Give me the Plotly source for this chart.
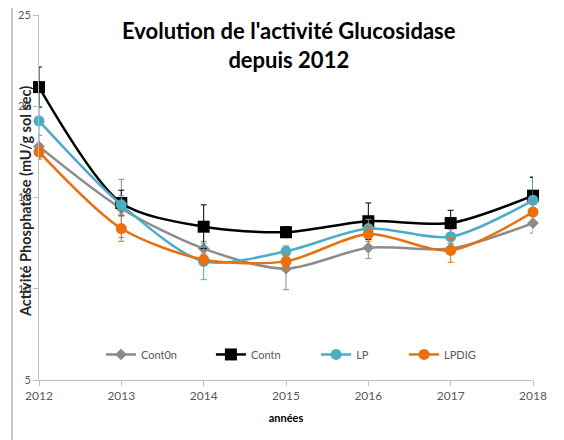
import plotly.graph_objects as go

years = [2012, 2013, 2014, 2015, 2016, 2017, 2018]
cont0n = [17.8, 14.4, 12.2, 11.1, 12.25, 12.2, 13.6]
cont0n_err = [0.6, 1.6, 0.4, 1.15, 0.6, 0.3, 0.55]
contn = [21.05, 14.7, 13.4, 13.1, 13.7, 13.6, 15.1]
contn_err = [1.1, 0.7, 1.2, 0.3, 1.0, 0.7, 1.0]
lp = [19.2, 14.6, 11.5, 12.05, 13.3, 12.85, 14.85]
lp_err = [0.8, 0.5, 1.0, 0.3, 0.5, 0.4, 1.3]
lpdig = [17.5, 13.3, 11.6, 11.5, 13.0, 12.1, 14.2]
lpdig_err = [0.4, 0.7, 0.3, 0.4, 0.4, 0.65, 0.6]
y_ticks = [5, 10, 15, 20, 25]

series = [
    ("Cont0n", cont0n, cont0n_err, "#8C8C8C", "diamond", 9, "legend", 0.1255),
    ("Contn", contn, contn_err, "#000000", "square", 12, "legend2", 0.348),
    ("LP", lp, lp_err, "#4BACC6", "circle", 11, "legend3", 0.561),
    ("LPDIG", lpdig, lpdig_err, "#E8700F", "circle", 11, "legend4", 0.739),
]

fig = go.Figure()
legends = {}
for name, vals, errs, color, sym, size, lg, lx in series:
    fig.add_trace(go.Scatter(
        x=years, y=vals, name=name, mode="lines+markers",
        line=dict(color=color, width=2.5, shape="spline", smoothing=0.8),
        marker=dict(color=color, symbol=sym, size=size),
        error_y=dict(type="data", array=errs, visible=True, color=color,
                     thickness=1, width=3),
        cliponaxis=False, legend=lg,
    ))
    legends[lg] = dict(orientation="h", x=lx, xanchor="left", y=0.07, yanchor="middle",
                       font=dict(size=11, color="#595959"),
                       bgcolor="rgba(0,0,0,0)", itemwidth=30)

fig.update_layout(
    width=556, height=432,
    margin=dict(l=31, r=31, t=7, b=60),
    plot_bgcolor="white", paper_bgcolor="white",
    font=dict(family="Lato", size=11, color="#595959"),
    title=dict(text="<b>Evolution de l'activité Glucosidase<br>depuis 2012</b>",
               x=0.505, xanchor="center", y=0.928, yanchor="middle",
               font=dict(family="Lato", size=22, color="#000000")),
    showlegend=True,
    xaxis=dict(range=[2012, 2018], tickvals=years, showgrid=False, zeroline=False,
               showline=True, linecolor="#BFBFBF", linewidth=1,
               ticks="outside", ticklen=5, tickcolor="#BFBFBF",
               tickfont=dict(size=12, color="#595959"),
               title=dict(text="<b>années</b>", font=dict(size=11, color="#000000"), standoff=11)),
    yaxis=dict(range=[5, 25], tickvals=y_ticks, ticktext=[str(v) for v in y_ticks],
               showgrid=False, zeroline=False, ticklabeloverflow="allow",
               automargin=False,
               showline=True, linecolor="#BFBFBF", linewidth=1,
               ticks="outside", ticklen=5, tickcolor="#BFBFBF",
               tickfont=dict(size=11, color="#595959")),
    shapes=[dict(type="rect", xref="paper", yref="paper",
                 x0=-0.0547, x1=1.3, y0=-0.4, y1=1.033,
                 line=dict(color="#8C8C8C", width=1))],
    annotations=[dict(text="<b>Activité Phosphatase (mU/g sol sec)</b>",
                      xref="paper", yref="paper", x=-0.0285, y=0.49,
                      xanchor="center", yanchor="middle",
                      textangle=-90, showarrow=False,
                      font=dict(size=14.5, color="#262626"))],
    **legends,
)

fig.write_html("out.html")
